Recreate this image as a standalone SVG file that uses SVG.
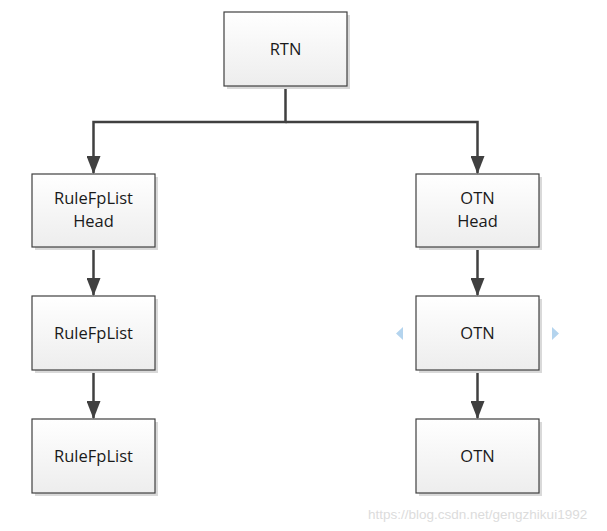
<svg xmlns="http://www.w3.org/2000/svg" width="607" height="531" viewBox="0 0 607 531">
<defs>
<linearGradient id="g" x1="0" y1="0" x2="0" y2="1">
<stop offset="0" stop-color="#ffffff"/>
<stop offset="1" stop-color="#ededed"/>
</linearGradient>
<marker id="ah" markerWidth="18" markerHeight="14" refX="17" refY="7" orient="auto" markerUnits="userSpaceOnUse" viewBox="0 0 18 14">
<path d="M0,0 L18,7 L0,14 Z" fill="#404040"/>
</marker>
<style>
.shadow{fill:#d9d9d9}
.box{fill:url(#g);stroke:#404040;stroke-width:1.2}
.lbl{font-family:"Open Sans","Liberation Sans",sans-serif;font-size:16.5px;fill:#1a1a1a;text-anchor:middle}
.conn{fill:none;stroke:#404040;stroke-width:2.5}
.tri{fill:#b4d4ee}
.wm{font-family:"Liberation Sans",Arial,sans-serif;font-size:13.5px;fill:#dcdcdc}
</style>
</defs>
<rect width="607" height="531" fill="#ffffff"/>
<g id="connectors">
<path class="conn" d="M285.5,86 V122 H93.5 V173" marker-end="url(#ah)"/>
<path class="conn" d="M285.5,122 H477.5 V173" marker-end="url(#ah)"/>
<path class="conn" d="M93.5,247 V295" marker-end="url(#ah)"/>
<path class="conn" d="M93.5,370 V418" marker-end="url(#ah)"/>
<path class="conn" d="M477.5,247 V295" marker-end="url(#ah)"/>
<path class="conn" d="M477.5,370 V418" marker-end="url(#ah)"/>
</g>
<g id="rtn">
<rect class="shadow" x="227" y="15" width="123" height="74"/>
<rect class="box" x="224" y="12" width="123" height="74"/>
<text class="lbl" x="285.5" y="55">RTN</text>
</g>
<g id="rulefplist-head">
<rect class="shadow" x="35" y="177" width="123" height="73"/>
<rect class="box" x="32" y="174" width="123" height="73"/>
<text class="lbl" x="93.5" y="204">RuleFpList</text>
<text class="lbl" x="93.5" y="227">Head</text>
</g>
<g id="rulefplist-1">
<rect class="shadow" x="35" y="299" width="123" height="74"/>
<rect class="box" x="32" y="296" width="123" height="74"/>
<text class="lbl" x="93.5" y="339">RuleFpList</text>
</g>
<g id="rulefplist-2">
<rect class="shadow" x="35" y="422" width="123" height="74"/>
<rect class="box" x="32" y="419" width="123" height="74"/>
<text class="lbl" x="93.5" y="462">RuleFpList</text>
</g>
<g id="otn-head">
<rect class="shadow" x="419" y="177" width="123" height="73"/>
<rect class="box" x="416" y="174" width="123" height="73"/>
<text class="lbl" x="477.5" y="204">OTN</text>
<text class="lbl" x="477.5" y="227">Head</text>
</g>
<g id="otn-1">
<rect class="shadow" x="419" y="299" width="123" height="74"/>
<rect class="box" x="416" y="296" width="123" height="74"/>
<text class="lbl" x="477.5" y="339">OTN</text>
<polygon class="tri" points="403,327 403,340 396,333.5"/>
<polygon class="tri" points="552,327 552,340 559,333.5"/>
</g>
<g id="otn-2">
<rect class="shadow" x="419" y="422" width="123" height="74"/>
<rect class="box" x="416" y="419" width="123" height="74"/>
<text class="lbl" x="477.5" y="462">OTN</text>
</g>
<text class="wm" x="368" y="519">https://blog.csdn.net/gengzhikui1992</text>
</svg>
